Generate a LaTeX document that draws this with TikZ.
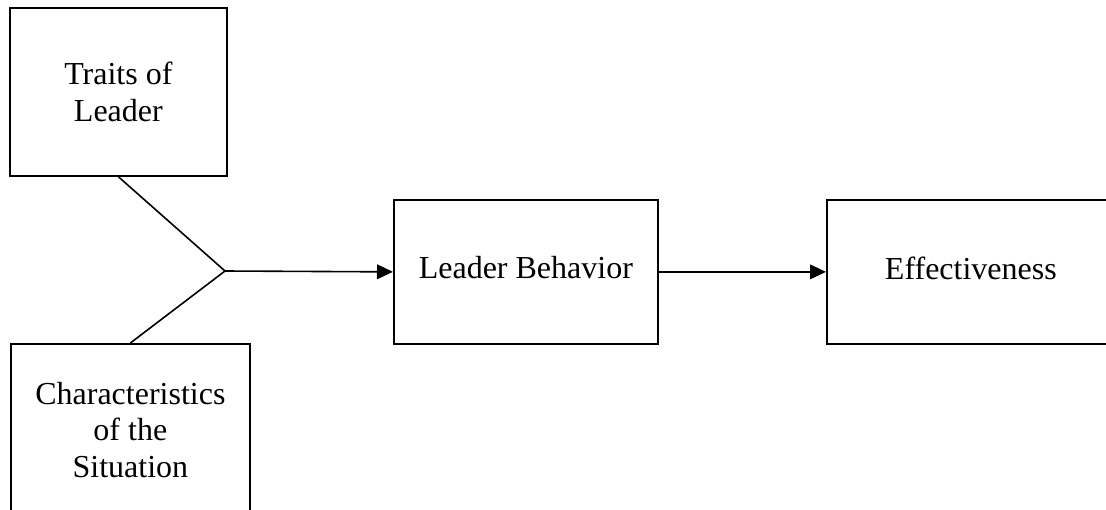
\documentclass[tikz,border=0pt]{standalone}
\usepackage{fontspec}
\setmainfont{Liberation Serif}
\usetikzlibrary{arrows.meta,positioning}

\begin{document}
\begin{tikzpicture}[x=0.75pt,y=-0.75pt,
  bloc/.style={draw,line width=1.3pt,align=center,inner sep=0pt,anchor=north west,font=\fontsize{24}{27.5}\selectfont},
  fleche/.style={line width=1.2pt,-{Triangle[length=12pt,width=11pt]}}]

\useasboundingbox (0,0) rectangle (1106,510);

%Facteurs
\node[bloc,minimum width=217*0.75pt,minimum height=168*0.75pt] (traits) at (9,7) {Traits of\\Leader};
\node[bloc,minimum width=239*0.75pt,minimum height=172*0.75pt] (situation) at (10,343) {Characteristics\\of the\\Situation};

%Comportement et efficacite
\node[bloc,text depth=6pt,minimum width=264*0.75pt,minimum height=144*0.75pt] (comportement) at (393,199) {Leader Behavior};
\node[bloc,text depth=6pt,minimum width=288*0.75pt,minimum height=144*0.75pt] (efficacite) at (826,199) {Effectiveness};

%Liaisons
\coordinate (jonction) at (225,271);
\draw[line width=1.2pt] (traits.south) -- (jonction) -- (situation.north);
\draw[fleche] (jonction) -- (comportement.west);
\draw[fleche] (comportement) -- (efficacite);

\end{tikzpicture}
\end{document}
